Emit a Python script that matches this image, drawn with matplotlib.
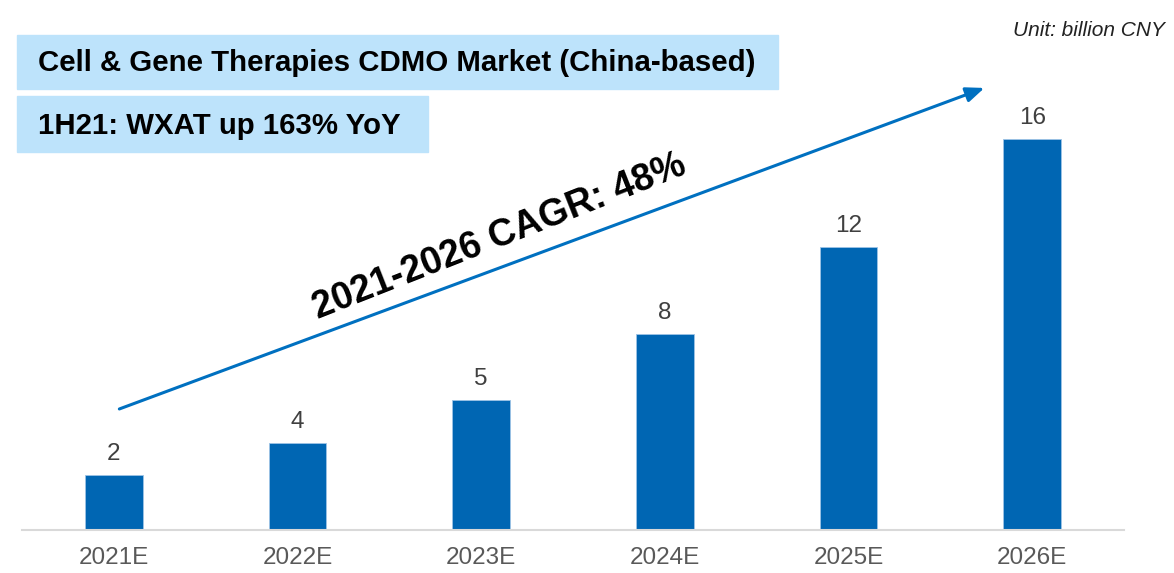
import matplotlib.pyplot as plt
import matplotlib.patches as patches

plt.rcParams['font.family'] = ['Liberation Sans', 'DejaVu Sans']

years = ['2021E', '2022E', '2023E', '2024E', '2025E', '2026E']
market = [2.25, 3.56, 5.32, 8.02, 11.58, 16.0]

W, H = 1174, 573
fig = plt.figure(figsize=(W / 100, H / 100), dpi=100)
# axes placed in pixels: baseline at y=530, x from 22 to 1124
ax = fig.add_axes([22 / W, (H - 530) / H, 1102 / W, 489 / H])

x = range(len(years))
bars = ax.bar(x, market, width=0.315, color='#0066B3', edgecolor='#9DC3E6', linewidth=0.6)
for b, v in zip(bars, market):
    ax.text(b.get_x() + b.get_width() / 2, v + 0.4, f'{v:.0f}',
            ha='center', va='bottom', fontsize=17.5, color='#404040')

ax.set_xlim(-0.5, 5.5)
ax.set_ylim(0, 20)
ax.set_xticks(list(x))
ax.set_xticklabels(years, fontsize=17.5, color='#595959')
ax.tick_params(axis='x', length=0, pad=12)
ax.set_yticks([])
for s in ['top', 'right', 'left']:
    ax.spines[s].set_visible(False)
ax.spines['bottom'].set_color('#D9D9D9')
ax.spines['bottom'].set_linewidth(1.5)

# CAGR arrow and label
ax.annotate('', xy=(4.74, 18.08), xytext=(0.03, 4.95),
            arrowprops=dict(arrowstyle='-|>,head_length=1.1,head_width=0.45',
                            color='#0070C0', lw=2.2, shrinkA=0, shrinkB=0))
ax.text(2.1, 12.0, '2021-2026 CAGR: 48%', rotation=21.5, rotation_mode='anchor',
        ha='center', va='center', fontsize=27, fontweight='bold', color='black')

# header boxes
box_col = '#BDE3FB'
fig.patches.append(patches.Rectangle((17 / W, 1 - 89 / H), 761 / W, 54 / H,
                                     transform=fig.transFigure, color=box_col, zorder=0))
fig.patches.append(patches.Rectangle((17 / W, 1 - 152 / H), 411 / W, 56 / H,
                                     transform=fig.transFigure, color=box_col, zorder=0))
fig.text(38 / W, 1 - 63 / H, 'Cell & Gene Therapies CDMO Market (China-based)',
         fontsize=21.2, fontweight='bold', va='center', ha='left')
fig.text(38 / W, 1 - 126 / H, '1H21: WXAT up 163% YoY',
         fontsize=21.2, fontweight='bold', va='center', ha='left')
fig.text(1165 / W, 1 - 31 / H, 'Unit: billion CNY', fontsize=15, style='italic',
         ha='right', va='center', color='#222222')

fig.savefig('out.png', dpi=100)
